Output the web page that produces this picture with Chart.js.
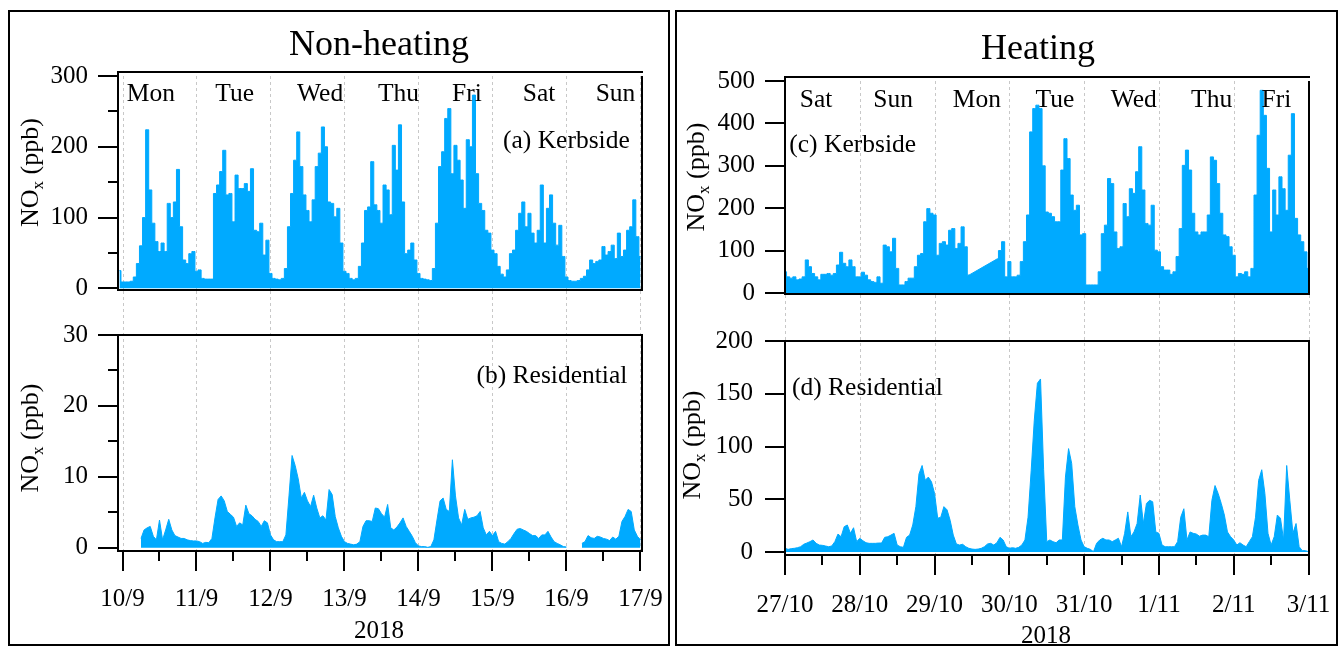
<!DOCTYPE html>
<html>
<head>
<meta charset="utf-8">
<script src="https://cdn.jsdelivr.net/npm/chart.js"></script>
<style>
html,body{margin:0;padding:0;background:#fff;}
body{width:1342px;height:647px;position:relative;overflow:hidden;}
canvas{position:absolute;left:0;top:0;}
.panel{position:absolute;border:2px solid #000;box-sizing:border-box;}
</style>
</head>
<body>
<div class="panel" style="left:8px;top:10px;width:662px;height:636px"></div>
<div class="panel" style="left:675px;top:10px;width:663px;height:636px"></div>
<canvas id="cA" width="1342" height="647"></canvas>
<canvas id="cB" width="1342" height="647"></canvas>
<canvas id="cC" width="1342" height="647"></canvas>
<canvas id="cD" width="1342" height="647"></canvas>
<script>
// ---------------- DATA ----------------
const panelTitles = ['Non-heating', 'Heating'];
const yearLabel = '2018';
const dateLabelsNonHeating = ['10/9','11/9','12/9','13/9','14/9','15/9','16/9','17/9'];
const dateLabelsHeating = ['27/10','28/10','29/10','30/10','31/10','1/11','2/11','3/11'];
const weekdaysNonHeating = ['Mon','Tue','Wed','Thu','Fri','Sat','Sun'];
const weekdaysHeating = ['Sat','Sun','Mon','Tue','Wed','Thu','Fri'];
const siteLabels = ['(a) Kerbside','(b) Residential','(c) Kerbside','(d) Residential'];

// hourly NOx (ppb); kerbside non-heating starts at hour -1 of 10/9, others at hour 0
const kerbsideNonHeatingStart = -1;
const kerbsideNonHeating = [25,
 9,9,9,10,16,35,60,100,224,139,92,66,52,64,52,120,100,122,168,87,40,35,49,52,
 24,26,14,13,13,13,134,146,165,195,132,134,94,160,141,141,148,137,169,82,80,92,47,68,
 21,14,13,12,14,28,87,134,181,221,172,132,110,94,125,172,191,228,200,122,120,101,113,64,
 24,21,14,12,14,31,64,110,115,179,118,110,92,146,139,104,202,167,231,122,49,54,64,40,
 21,14,13,12,11,28,92,172,193,240,254,162,202,181,153,113,210,200,273,162,120,110,82,78,
 54,49,31,20,16,26,49,54,82,106,122,87,106,78,64,82,146,64,113,132,92,61,89,45,
 16,11,10,10,11,14,17,26,40,35,38,40,59,47,52,61,42,78,45,54,82,87,125,73,
 45];

const residentialNonHeatingStart = 0;
const residentialNonHeating = [
 null,null,null,null,null,null,1.3,2.5,2.8,3.0,1.6,1.1,3.9,1.1,2.5,4.0,2.5,1.7,1.5,1.3,1.3,1.1,1.0,0.95,
 0.95,0.85,0.6,0.75,0.7,1.3,4.2,6.8,7.3,6.6,5.1,4.7,4.3,3.0,3.5,3.2,6.0,4.8,4.5,4.0,3.7,3.0,3.8,3.5,
 1.8,1.1,0.85,0.85,0.85,1.8,7.3,13.0,11.6,9.7,7.0,7.8,6.6,5.8,7.4,5.6,4.2,4.5,3.9,8.2,7.5,4.4,2.8,1.6,
 0.85,0.6,0.5,0.4,0.5,0.85,3.0,3.8,3.8,3.7,5.6,5.5,4.8,4.3,6.1,2.8,2.5,2.9,3.5,4.2,3.0,2.3,1.6,0.7,
 0.25,0.15,0.15,0.05,0.15,1.1,3.9,6.6,7.0,5.4,5.1,12.4,7.3,4.2,3.2,5.4,4.0,4.2,4.3,4.5,5.1,2.8,1.8,2.3,
 1.7,2.3,0.85,0.6,0.5,0.85,1.3,2.0,2.6,2.7,2.5,2.3,2.0,1.7,1.7,1.3,1.8,1.8,2.3,1.5,0.85,0.6,0.4,0.15,
 0.1,null,null,null,null,0.6,0.85,1.7,1.4,1.3,1.6,1.5,1.3,1.2,1.0,1.5,1.2,1.6,3.7,4.4,5.4,5.1,2.5,1.6,
 1.1];

const kerbsideHeatingStart = 0;
const kerbsideHeating = [
 50,38,35,38,31,33,38,78,62,46,38,31,44,44,46,42,46,66,96,70,62,78,62,38,
 38,49,42,31,27,25,38,23,113,109,97,129,58,19,19,27,35,35,62,89,93,168,199,188,
 184,89,117,121,113,148,152,105,117,156,109,42,null,null,null,null,null,null,null,null,80,100,121,38,
 74,38,38,42,74,121,184,380,435,443,435,300,191,188,180,168,168,290,364,317,231,195,207,137,
 140,19,19,19,19,50,140,160,270,258,144,105,109,211,180,246,235,286,345,243,164,160,207,101,
 97,62,54,54,44,50,86,152,301,337,290,188,144,137,144,144,184,321,313,258,188,137,133,109,
 89,38,46,44,50,38,58,231,372,478,419,294,144,243,184,274,246,195,325,423,176,137,121,97,
 58];

const residentialHeatingStart = 0;
const residentialHeating = [
 3.5,2.5,3.2,3.5,4.1,5.0,7.3,8.5,9.8,11.4,8.2,6.6,6.3,5.7,5.0,5.7,9.8,17,14.5,24,25.6,17.7,23,9.8,
 13,10.7,8.8,8.2,8.2,8.2,8.5,8.5,13.9,14.5,16,17.7,6.6,5.0,4.4,13.9,16,25.6,43,74,82,68,71,66.6,
 55.5,32,33,43,40,30,16,7.6,6.6,7.3,5.0,3.5,2.8,2.5,2.8,3.5,5.0,7.6,8.2,6.6,8.8,13.9,11.4,5.0,
 3.5,4.1,3.5,4.4,6.6,11.4,33,77,125,160,164,78,9.8,11.4,9.8,8.8,11.4,11.4,71,98,84,43,25.6,11.4,
 5.0,3.5,2.5,0.3,8.2,11.4,13,11.4,11.4,9.8,11.4,13,5.0,17.7,38,14.5,19,27,54,27,46,49,47.6,19,
 17.7,6.6,5.0,5.0,5.0,5.0,9.8,33,41,11.4,19,17.7,17,15,16,16,14.5,49,63,55.5,46,35,19,14.5,
 11.4,6.6,8.8,6.6,5.0,9.8,14.5,33,68,78,55.5,17.7,6.6,14.5,35,32,11.4,82,49,17.7,27,5.0,1.3,1.3,
 0.3];

const yTicksKerbNH = [0,100,200,300];
const yMinorKerbNH = [50,150,250];
const yTicksResNH = [0,10,20,30];
const yMinorResNH = [5,15,25];
const yTicksKerbH = [0,100,200,300,400,500];
const yTicksResH = [0,50,100,150,200];
const dayHours = [0,24,48,72,96,120,144,168];
const halfDayHours = [12,36,60,84,108,132,156];

// ---------------- DRAWING ----------------
const BLUE = '#00aaff';
const SERIF = '"Liberation Serif", "Times New Roman", serif';
Chart.defaults.font.family = SERIF;
Chart.defaults.font.size = 25;
Chart.defaults.color = '#000';

function toPoints(vals, start) { return vals.map((v, i) => ({x: start + i, y: v})); }

// straight connecting segments across missing-data runs (instrument gap drawn as a line);
// each end is held flat for a short overlap so the fills join without a seam
function gapBridges(vals, start) {
  const pts = [];
  const ov = 0.4;
  for (let i = 1; i < vals.length; i++) {
    if (vals[i] === null && vals[i - 1] !== null) {
      let j = i; while (j < vals.length && vals[j] === null) j++;
      if (j < vals.length) {
        pts.push({x: start + i - 1 - ov, y: vals[i - 1]}, {x: start + i - 1, y: vals[i - 1]},
                 {x: start + j, y: vals[j]}, {x: start + j + ov, y: vals[j]},
                 {x: start + j + ov + 0.01, y: null});
      }
    }
  }
  return pts;
}

function drawYTitle(ctx, bx, cy) {
  ctx.save();
  ctx.translate(bx, cy);
  ctx.rotate(-Math.PI / 2);
  const big = '26px ' + SERIF, small = '17px ' + SERIF;
  ctx.font = big; const w1 = ctx.measureText('NO').width; const w3 = ctx.measureText(' (ppb)').width;
  ctx.font = small; const w2 = ctx.measureText('x').width;
  let x = -(w1 + w2 + w3) / 2;
  ctx.textAlign = 'left'; ctx.textBaseline = 'alphabetic';
  ctx.font = big; ctx.fillText('NO', x, 0); x += w1;
  ctx.font = small; ctx.fillText('x', x, 5); x += w2;
  ctx.font = big; ctx.fillText(' (ppb)', x, 0);
  ctx.restore();
}

const deco = {
  id: 'deco',
  beforeDatasetsDraw(chart, args, o) {
    const ctx = chart.ctx, ca = chart.chartArea, xs = chart.scales.x;
    ctx.save();
    ctx.strokeStyle = '#c8c8c8'; ctx.lineWidth = 1; ctx.setLineDash([3, 3]);
    dayHours.forEach(h => {
      const x = Math.round(xs.getPixelForValue(h)) + 0.5;
      ctx.beginPath(); ctx.moveTo(x, o.gridTop); ctx.lineTo(x, ca.bottom); ctx.stroke();
    });
    ctx.restore();
  },
  afterDraw(chart, args, o) {
    const ctx = chart.ctx, ca = chart.chartArea, xs = chart.scales.x, ys = chart.scales.y;
    const L = Math.round(ca.left), R = Math.round(ca.right), T = Math.round(ca.top), B = Math.round(ca.bottom);
    ctx.save();
    ctx.strokeStyle = '#000'; ctx.lineWidth = 2; ctx.setLineDash([]);
    const seg = (x1, y1, x2, y2) => { ctx.beginPath(); ctx.moveTo(x1, y1); ctx.lineTo(x2, y2); ctx.stroke(); };
    seg(L, o.frameTop - 1, L, B + 1);
    seg(L - 1, o.frameTop, R + 1, o.frameTop);
    seg(R, T, R, B + 1);
    seg(L - 1, B, R + 1, B);
    o.yMajor.forEach(v => { const y = Math.round(ys.getPixelForValue(v)); seg(L - 20, y, L, y); });
    (o.yMinor || []).forEach(v => { const y = Math.round(ys.getPixelForValue(v)); seg(L - 10, y, L, y); });
    if (o.xTicks) {
      dayHours.forEach(h => { const x = Math.round(xs.getPixelForValue(h)); seg(x, B, x, B + 20); });
      halfDayHours.forEach(h => { const x = Math.round(xs.getPixelForValue(h)); seg(x, B, x, B + 10); });
    }
    ctx.fillStyle = '#000'; ctx.textBaseline = 'alphabetic';
    (o.texts || []).forEach(t => {
      ctx.font = t.font; ctx.textAlign = t.align || 'left'; ctx.fillText(t.text, t.x, t.y);
    });
    if (o.days) {
      ctx.font = '25.5px ' + SERIF; ctx.textAlign = 'center';
      o.days.names.forEach((n, i) => ctx.fillText(n, xs.getPixelForValue(o.days.hours[i]), o.days.y));
    }
    if (o.ytitle) drawYTitle(ctx, o.ytitle.x, o.ytitle.y);
    ctx.restore();
  }
};

function build(id, p) {
  const datasets = [{
    data: toPoints(p.values, p.start),
    fill: 'origin', backgroundColor: BLUE, borderColor: BLUE, borderWidth: 1,
    pointRadius: 0, tension: 0, spanGaps: false, stepped: p.stepped || false
  }];
  if (p.bridge) {
    datasets.push({
      data: gapBridges(p.values, p.start),
      fill: 'origin', backgroundColor: BLUE, borderColor: BLUE, borderWidth: 1,
      pointRadius: 0, tension: 0, spanGaps: false
    });
  }
  return new Chart(document.getElementById(id), {
    type: 'line',
    data: { datasets },
    plugins: [deco],
    options: {
      responsive: false, animation: false, devicePixelRatio: 1,
      layout: { padding: p.pad },
      events: [],
      plugins: { legend: {display: false}, tooltip: {enabled: false}, title: {display: false}, deco: p.deco },
      scales: {
        x: {
          type: 'linear', min: p.xmin, max: p.xmax,
          grid: {display: false, drawTicks: false}, border: {display: false},
          ticks: {
            display: !!p.xLabels, padding: p.xPad || 0, autoSkip: false, maxRotation: 0, minRotation: 0,
            font: {family: SERIF, size: 25},
            callback: v => { const i = dayHours.indexOf(v); return (p.xLabels && i >= 0) ? p.xLabels[i] : ''; }
          },
          afterBuildTicks: s => { s.ticks = dayHours.map(v => ({value: v})); },
          afterFit: s => { s.height = p.xHeight; s.paddingLeft = 0; s.paddingRight = 0; }
        },
        y: {
          type: 'linear', min: p.ymin, max: p.ymax,
          grid: {display: false, drawTicks: false}, border: {display: false},
          ticks: { padding: p.yPad, font: {family: SERIF, size: 25} },
          afterBuildTicks: s => { s.ticks = p.yMajor.map(v => ({value: v})); },
          afterFit: s => { s.width = p.yWidth; s.paddingTop = 0; s.paddingBottom = 0; }
        }
      }
    }
  });
}

const T36 = '36px ' + SERIF, T25 = '25.5px ' + SERIF;

build('cA', {
  values: kerbsideNonHeating, start: kerbsideNonHeatingStart, stepped: 'middle',
  xmin: -1.46, xmax: 168.5, ymin: -2.4, ymax: 300, yMajor: yTicksKerbNH,
  pad: {left: 0, top: 76, right: 700, bottom: 357}, yWidth: 118, xHeight: 0, yPad: 30,
  deco: {
    gridTop: 76, frameTop: 72, yMajor: yTicksKerbNH, yMinor: yMinorKerbNH,
    days: {names: weekdaysNonHeating, hours: [9.2, 36.4, 64.1, 89.5, 111.7, 135.1, 159.9], y: 100.5},
    texts: [
      {text: panelTitles[0], x: 379, y: 55, font: T36, align: 'center'},
      {text: siteLabels[0], x: 503, y: 148, font: T25}
    ],
    ytitle: {x: 38, y: 172.5}
  }
});

build('cB', {
  values: residentialNonHeating, start: residentialNonHeatingStart,
  xmin: -1.46, xmax: 168.5, ymin: -0.47, ymax: 30, yMajor: yTicksResNH,
  pad: {left: 0, top: 335, right: 700, bottom: 0}, yWidth: 118, xHeight: 96, yPad: 30,
  xLabels: dateLabelsNonHeating, xPad: 33,
  deco: {
    gridTop: 291, frameTop: 335, yMajor: yTicksResNH, yMinor: yMinorResNH, xTicks: true,
    texts: [
      {text: siteLabels[1], x: 476.5, y: 383, font: T25},
      {text: yearLabel, x: 379, y: 638, font: '25px ' + SERIF, align: 'center'}
    ],
    ytitle: {x: 37.5, y: 438}
  }
});

build('cC', {
  values: kerbsideHeating, start: kerbsideHeatingStart, stepped: 'middle', bridge: true,
  xmin: 0, xmax: 168, ymin: -2.4, ymax: 500, yMajor: yTicksKerbH,
  pad: {left: 0, top: 81, right: 33.5, bottom: 353}, yWidth: 785, xHeight: 0, yPad: 30,
  deco: {
    gridTop: 81, frameTop: 77, yMajor: yTicksKerbH,
    days: {names: weekdaysHeating, hours: [10.0, 34.7, 61.6, 86.6, 111.9, 136.9, 157.7], y: 106.5},
    texts: [
      {text: panelTitles[1], x: 1038, y: 59, font: T36, align: 'center'},
      {text: siteLabels[2], x: 789.3, y: 151.7, font: T25}
    ],
    ytitle: {x: 704, y: 177}
  }
});

build('cD', {
  values: residentialHeating, start: residentialHeatingStart,
  xmin: 0, xmax: 168, ymin: -2.84, ymax: 200, yMajor: yTicksResH,
  pad: {left: 0, top: 341, right: 33.5, bottom: 0}, yWidth: 785, xHeight: 92, yPad: 32,
  xLabels: dateLabelsHeating, xPad: 35,
  deco: {
    gridTop: 295, frameTop: 341, yMajor: yTicksResH, xTicks: true,
    texts: [
      {text: siteLabels[3], x: 792, y: 394.5, font: T25},
      {text: yearLabel, x: 1046, y: 643, font: '25px ' + SERIF, align: 'center'}
    ],
    ytitle: {x: 700, y: 445}
  }
});
</script>
</body>
</html>
